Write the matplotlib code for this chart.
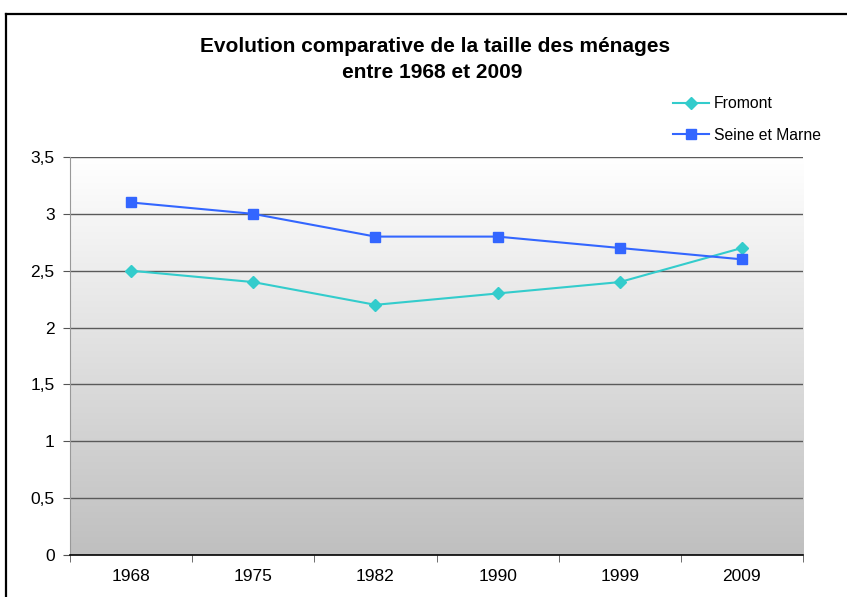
import matplotlib
matplotlib.use("Agg")
import matplotlib.pyplot as plt
import numpy as np
from matplotlib.lines import Line2D

plt.rcParams['font.family'] = ['Liberation Sans', 'DejaVu Sans']

years = ["1968", "1975", "1982", "1990", "1999", "2009"]
fromont = [2.5, 2.4, 2.2, 2.3, 2.4, 2.7]
seine_marne = [3.1, 3.0, 2.8, 2.8, 2.7, 2.6]
yticks = [0, 0.5, 1, 1.5, 2, 2.5, 3, 3.5]
ytick_labels = ["0", "0,5", "1", "1,5", "2", "2,5", "3", "3,5"]

W, H = 847, 597
fig = plt.figure(figsize=(W/100, H/100), dpi=100)
fig.patch.set_facecolor('white')

# figure border (top and left visible)
fig.add_artist(Line2D([6/W, 6/W], [0, 1 - 14/H], transform=fig.transFigure, color='black', lw=1.6))
fig.add_artist(Line2D([6/W, 1], [1 - 14/H, 1 - 14/H], transform=fig.transFigure, color='black', lw=1.6))

ax = fig.add_axes([70/W, 1 - 555/H, (803-70)/W, (555-157)/H])

# gradient background
grad = np.linspace(1.0, 0.0, 256).reshape(-1, 1)
top = np.array([1.0, 1.0, 1.0])
bot = np.array([0.75, 0.75, 0.75])
img = top[None, None, :] * grad[:, :, None] + bot[None, None, :] * (1 - grad[:, :, None])
ax.imshow(img, extent=[0, 1, 0, 1], transform=ax.transAxes, aspect='auto', zorder=0)

x = np.arange(len(years))
ax.set_xlim(-0.5, len(years) - 0.5)
ax.set_ylim(0, 3.5)

for yv in yticks[1:]:
    ax.axhline(yv, color='#5a5a5a', lw=1.0, zorder=1)

ax.plot(x, fromont, color='#33CCCC', lw=1.5, marker='D', markersize=6, zorder=3, label='Fromont')
ax.plot(x, seine_marne, color='#3366FF', lw=1.5, marker='s', markersize=7.5, zorder=3, label='Seine et Marne')

ax.set_yticks(yticks)
ax.set_yticklabels(ytick_labels, fontsize=12.5)
ax.set_xticks(x)
ax.set_xticklabels(years, fontsize=12.5)
ax.set_xticks(np.arange(-0.5, len(years)), minor=True)
ax.tick_params(axis='x', which='major', length=0, pad=10)
ax.tick_params(axis='x', which='minor', length=5, color='#555555', direction='out')
ax.tick_params(axis='y', length=5, color='#555555', direction='out', pad=6)

for s in ['top', 'right']:
    ax.spines[s].set_visible(False)
ax.spines['left'].set_color('#999999')
ax.spines['bottom'].set_color('black')
ax.spines['bottom'].set_linewidth(1.2)
ax.spines['bottom'].set_zorder(4)

fig.text(435/W, 1 - 47/H, "Evolution comparative de la taille des ménages",
         ha='center', va='center', fontsize=15, fontweight='bold')
fig.text(432/W, 1 - 73/H, "entre 1968 et 2009", ha='center', va='center', fontsize=15, fontweight='bold')

leg = fig.legend(loc='upper left', bbox_to_anchor=(659/W, 1 - 82/H), frameon=False,
                 fontsize=11.3, handlelength=2.3, handletextpad=0.3, labelspacing=1.05)

fig.savefig("out.png", dpi=100)
